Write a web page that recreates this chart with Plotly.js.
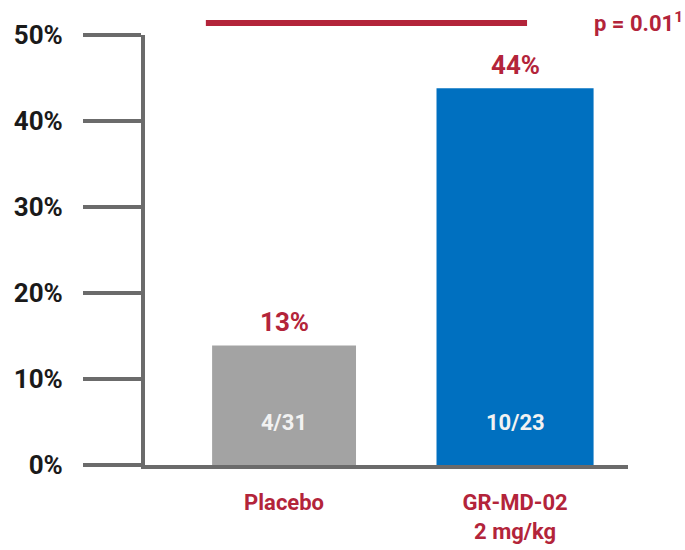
<!DOCTYPE html>
<html>
<head>
<meta charset="utf-8">
<script src="https://cdn.plot.ly/plotly-3.0.1.min.js"></script>
<style>html,body{margin:0;padding:0;background:#fff;}#chart{width:685px;height:550px;}</style>
</head>
<body>
<div id="chart"></div>
<script>
var categories = ['Placebo', 'GR-MD-02<br>2 mg/kg'];
var values = [13.9, 43.8];
var valueLabels = ['13%', '44%'];
var countLabels = ['4/31', '10/23'];
var barColors = ['#a3a3a3', '#0070c0'];
var barWidths = [0.623, 0.68];
var yTickVals = [0, 10, 20, 30, 40, 50];
var yTickText = ['0%', '10%', '20%', '30%', '40%', '50%'];
var pValueText = 'p = 0.01<sup>1</sup>';

var FONT = 'Roboto, "Liberation Sans", sans-serif';
var RED = '#b3243a';
var GRAY = '#6b6b6b';

var trace = {
  type: 'bar',
  x: categories,
  y: values,
  width: barWidths,
  marker: {color: barColors, line: {width: 0}},
  hoverinfo: 'none'
};

var annotations = [];
for (var i = 0; i < categories.length; i++) {
  annotations.push({
    x: categories[i], y: values[i], xref: 'x', yref: 'y',
    text: '<b>' + valueLabels[i] + '</b>', showarrow: false,
    yanchor: 'bottom', yshift: 6,
    font: {family: FONT, size: 26, color: RED}
  });
  annotations.push({
    x: categories[i], y: 0, xref: 'x', yref: 'y',
    text: '<b>' + countLabels[i] + '</b>', showarrow: false,
    yanchor: 'middle', yshift: 43,
    font: {family: FONT, size: 22, color: '#f2f2f2'}
  });
}
annotations.push({
  x: 1.118, y: 1.03, xref: 'paper', yref: 'paper',
  xanchor: 'right', yanchor: 'middle', showarrow: false,
  text: '<b>' + pValueText + '</b>',
  font: {family: FONT, size: 22, color: RED}
});

var layout = {
  width: 685, height: 550,
  margin: {l: 145, r: 57, t: 35, b: 85},
  paper_bgcolor: '#ffffff', plot_bgcolor: '#ffffff',
  showlegend: false,
  font: {family: FONT},
  xaxis: {
    type: 'category',
    range: [-0.602, 1.489],
    showgrid: false, zeroline: false,
    showline: true, linecolor: GRAY, linewidth: 4,
    ticks: '',
    tickfont: {family: FONT, size: 22, color: RED, weight: 'bold'},
    ticklabelstandoff: 15,
    fixedrange: true
  },
  yaxis: {
    range: [0, 50],
    tickvals: yTickVals, ticktext: yTickText,
    showgrid: false, zeroline: false,
    showline: true, linecolor: GRAY, linewidth: 4,
    ticks: 'outside', ticklen: 58, tickwidth: 4, tickcolor: GRAY,
    tickfont: {family: FONT, size: 26, color: '#1a1a1a', weight: 'bold'},
    ticklabelstandoff: 15,
    fixedrange: true
  },
  shapes: [{
    type: 'line', xref: 'paper', yref: 'paper',
    x0: 0.126, x1: 0.791, y0: 1.028, y1: 1.028,
    line: {color: RED, width: 6}
  }],
  annotations: annotations
};

Plotly.newPlot('chart', [trace], layout, {staticPlot: true, displayModeBar: false});
</script>
</body>
</html>
